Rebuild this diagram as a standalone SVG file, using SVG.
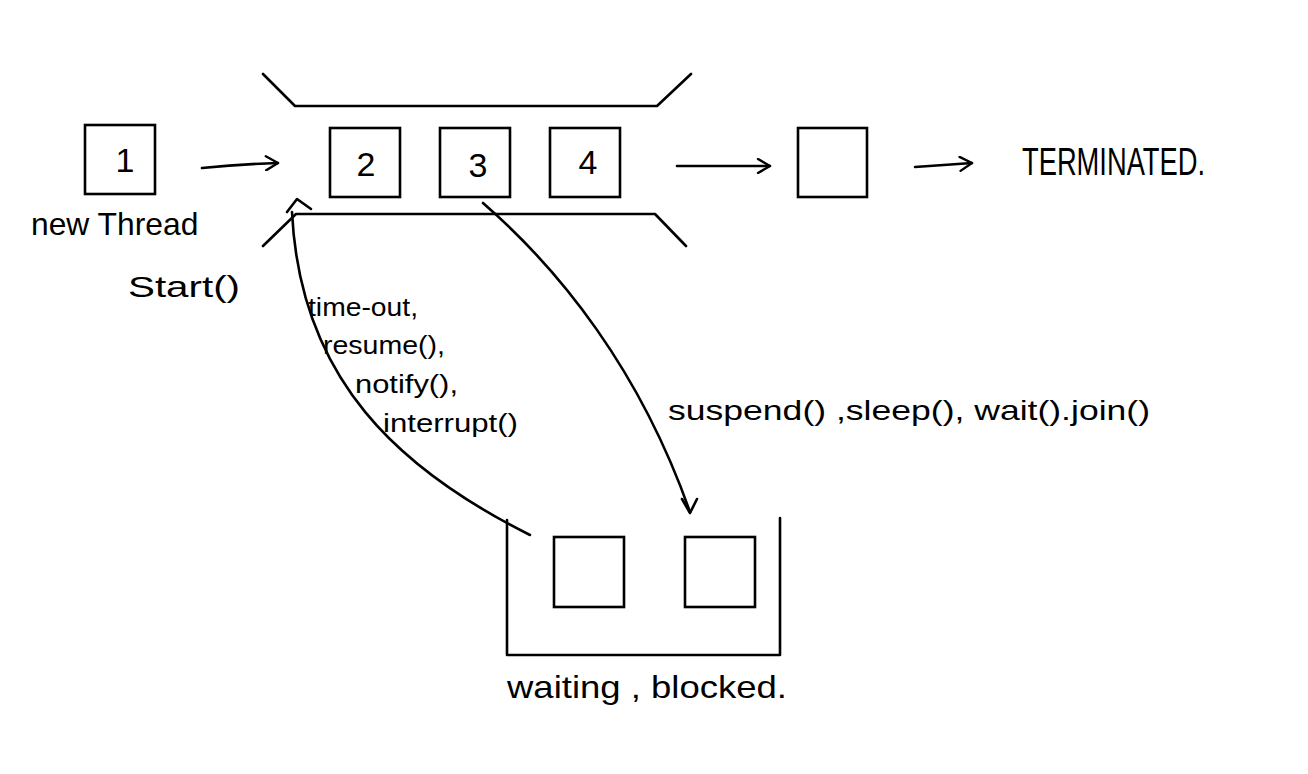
<svg xmlns="http://www.w3.org/2000/svg" width="1308" height="774" viewBox="0 0 1308 774">
<style>
.ln{fill:none;stroke:#000;stroke-width:2.6;stroke-linecap:round;stroke-linejoin:round}
.bx{fill:#fff;stroke:#000;stroke-width:2.6}
.hw{font-family:"Liberation Sans","DejaVu Sans",sans-serif;fill:#000}
.num{font-family:"Liberation Sans",sans-serif;font-size:34px;fill:#000;text-anchor:middle}
</style>
<defs>
<marker id="ah2" viewBox="0 0 16 16" refX="14" refY="8" markerWidth="16" markerHeight="16" markerUnits="userSpaceOnUse" orient="auto">
<path d="M2,1 L14,8 L2,15" fill="none" stroke="#000" stroke-width="2.4" stroke-linecap="round" stroke-linejoin="round"/>
</marker>
</defs>
<rect width="1308" height="774" fill="#fff"/>

<g id="runnable-queue">
<path class="ln" d="M263,74 L295,106 L657,106 L691,74"/>
<path class="ln" d="M263,246 L296,214 L655,214 L686,246"/>
</g>

<g id="node-1">
<rect class="bx" x="85" y="125" width="70" height="69"/>
<text class="num" x="125" y="172">1</text>
<text class="hw" x="31" y="235" font-size="31.8">new Thread</text>
</g>

<g id="node-2">
<rect class="bx" x="330" y="128" width="70" height="69"/>
<text class="num" x="366" y="176">2</text>
</g>
<g id="node-3">
<rect class="bx" x="440" y="128" width="70" height="69"/>
<text class="num" x="478" y="177">3</text>
</g>
<g id="node-4">
<rect class="bx" x="550" y="128" width="70" height="69"/>
<text class="num" x="588" y="174">4</text>
</g>

<g id="node-5">
<rect class="bx" x="798" y="128" width="69" height="69"/>
</g>

<g id="terminated">
<text class="hw" x="1022" y="175" font-size="38" textLength="183" lengthAdjust="spacingAndGlyphs">TERMINATED.</text>
</g>

<g id="waiting-blocked">
<path class="ln" d="M507,520 L507,655 L780,655 L780,518"/>
<rect class="bx" x="554" y="537" width="70" height="70"/>
<rect class="bx" x="685" y="537" width="70" height="70"/>
<text class="hw" x="507" y="698" font-size="32" textLength="280" lengthAdjust="spacingAndGlyphs">waiting , blocked.</text>
</g>

<g id="connectors">
<path class="ln" d="M202,168 Q240,164 278,163" marker-end="url(#ah2)"/>
<path class="ln" d="M677,166 L770,166" marker-end="url(#ah2)"/>
<path class="ln" d="M915,167 Q945,165 972,163" marker-end="url(#ah2)"/>
<path class="ln" d="M530,535 C400,470 300,380 292,212"/>
<path class="ln" d="M287,212 L297,199 L311,209"/>
<path class="ln" d="M483,203 C560,270 640,370 690,512"/>
<path class="ln" d="M682,499 L690,513 L697,499"/>
</g>

<g id="labels">
<text class="hw" x="128" y="297" font-size="30" textLength="112" lengthAdjust="spacingAndGlyphs">Start()</text>
<text class="hw" x="308" y="316" font-size="26" textLength="110" lengthAdjust="spacingAndGlyphs">time-out,</text>
<text class="hw" x="323" y="354" font-size="26" textLength="122" lengthAdjust="spacingAndGlyphs">resume(),</text>
<text class="hw" x="355" y="393" font-size="26" textLength="103" lengthAdjust="spacingAndGlyphs">notify(),</text>
<text class="hw" x="383" y="432" font-size="26" textLength="135" lengthAdjust="spacingAndGlyphs">interrupt()</text>
<text class="hw" x="668" y="420" font-size="28" textLength="482" lengthAdjust="spacingAndGlyphs">suspend() ,sleep(), wait().join()</text>
</g>
</svg>
